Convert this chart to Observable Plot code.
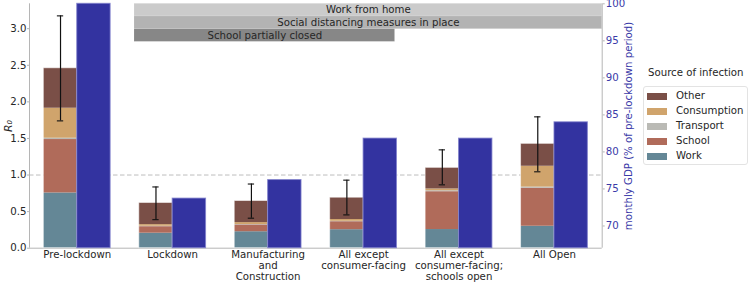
<!DOCTYPE html>
<html>
<head>
<meta charset="utf-8">
<script src="https://cdn.jsdelivr.net/npm/d3@7"></script>
<script src="https://cdn.jsdelivr.net/npm/@observablehq/plot@0.6"></script>
<style>
  body { margin: 0; background: white; font-family: "DejaVu Sans", sans-serif; }
  #wrap { position: relative; width: 748px; height: 283px; overflow: hidden; }
  #wrap svg { position: absolute; left: 0; top: 0; }
  .legend-title { position: absolute; left: 648px; top: 67px; font-size: 10.2px; color: #262626; white-space: nowrap; }
  .legend-box { position: absolute; left: 643px; top: 86px; width: 103px; height: 77px; border: 1px solid #e3e3e3; border-radius: 3px; background: rgba(255,255,255,0.8); }
  .legend-item { position: absolute; left: 3px; height: 14px; font-size: 10.2px; color: #262626; white-space: nowrap; }
  .legend-sw { position: absolute; left: 0; top: 4px; width: 20px; height: 7px; }
  .legend-lb { position: absolute; left: 29px; top: 0; line-height: 14px; }
</style>
</head>
<body>
<div id="wrap"></div>
<script>
// ---------------- data ----------------
const categories = [
  "Pre-lockdown",
  "Lockdown",
  "Manufacturing\nand\nConstruction",
  "All except\nconsumer-facing",
  "All except\nconsumer-facing;\nschools open",
  "All Open"
];
const sources = ["Work", "School", "Transport", "Consumption", "Other"];
const work        = [0.755, 0.205, 0.225, 0.253, 0.255, 0.300];
const school      = [0.730, 0.089, 0.093, 0.109, 0.517, 0.520];
const transport   = [0.018, 0.006, 0.006, 0.006, 0.013, 0.015];
const consumption = [0.410, 0.022, 0.026, 0.024, 0.025, 0.285];
const other       = [0.546, 0.296, 0.295, 0.298, 0.288, 0.306];
const errLow  = [1.740, 0.390, 0.410, 0.455, 0.866, 1.044];
const errHigh = [3.175, 0.837, 0.877, 0.930, 1.344, 1.795];
const gdp = [100, 73.7, 76.2, 81.8, 81.8, 84.0];
const rTicks = [0, 0.5, 1.0, 1.5, 2.0, 2.5, 3.0];
const gdpTicks = [70, 75, 80, 85, 90, 95, 100];
const bandLabels = ["Work from home", "Social distancing measures in place", "School partially closed"];
const bandStart = [0.6, 0.6, 0.6];
const bandEnd = [5.5, 5.5, 3.33];

// ---------------- styling ----------------
const sourceColors = ["#648796", "#b06b5a", "#babab5", "#d0a46c", "#7a4f47"];
const bandColors = ["#cbcbcb", "#b3b3b3", "#878787"];
const gdpColor = "#3333a0";
const gdpAxisColor = "#3a3aa8";
const textColor = "#262626";
const spineColor = "#b5b5b5";
const BAR_W = 0.35;
const X_DOMAIN = [-0.5, 5.5];
const R_DOMAIN = [0, 3.34];
const GDP_DOMAIN = [67, 100];
const BAND_H = 0.1735;

const series = [work, school, transport, consumption, other];
const segs = [];
categories.forEach((c, i) => {
  let base = 0;
  sources.forEach((s, k) => {
    const v = series[k][i];
    segs.push({i, source: s, y1: base, y2: base + v});
    base += v;
  });
});
const totals = categories.map((c, i) => ({i, total: d3.sum(series, s => s[i])}));
const errs = categories.map((c, i) => ({i, c: i - BAR_W / 2, lo: errLow[i], hi: errHigh[i]}));
const gdpRows = gdp.map((v, i) => ({i, v}));
const bands = bandLabels.map((label, k) => ({
  label, start: bandStart[k], end: bandEnd[k],
  y2: R_DOMAIN[1] - k * BAND_H, y1: R_DOMAIN[1] - (k + 1) * BAND_H, color: bandColors[k]
}));

const common = {
  width: 748, height: 283,
  marginLeft: 29, marginRight: 146.3, marginTop: 3.3, marginBottom: 35.3,
  x: {domain: X_DOMAIN, axis: null},
  style: {background: "transparent", fontFamily: "DejaVu Sans", fontSize: "10px", color: textColor, overflow: "visible"}
};

const plotA = Plot.plot({
  ...common,
  y: {domain: R_DOMAIN},
  color: {domain: sources, range: sourceColors},
  marks: [
    Plot.ruleY([1], {stroke: "#bdbdbd", strokeDasharray: "4.5,2.5", strokeWidth: 1}),
    Plot.ruleX([X_DOMAIN[0]], {stroke: spineColor}),
    Plot.ruleY([0], {stroke: spineColor}),
    Plot.rect(segs, {x1: d => d.i - BAR_W, x2: d => d.i, y1: "y1", y2: "y2", fill: "source"}),
    Plot.rect(totals, {x1: d => d.i - BAR_W, x2: d => d.i, y1: 0, y2: "total", fill: "none", stroke: "#ffffff", strokeOpacity: 0.55, strokeWidth: 1}),
    Plot.ruleX(errs, {x: "c", y1: "lo", y2: "hi", stroke: "#111", strokeWidth: 1.2}),
    Plot.ruleY(errs, {y: "lo", x1: d => d.c - 0.033, x2: d => d.c + 0.033, stroke: "#111", strokeWidth: 1.1}),
    Plot.ruleY(errs, {y: "hi", x1: d => d.c - 0.033, x2: d => d.c + 0.033, stroke: "#111", strokeWidth: 1.1}),
    Plot.rect(bands, {x1: "start", x2: "end", y1: "y1", y2: "y2", fill: "color", stroke: "#ffffff", strokeOpacity: 0.25, strokeWidth: 0.5}),
    Plot.text(bands, {x: d => (d.start + d.end) / 2, y: d => (d.y1 + d.y2) / 2, text: "label", fill: textColor, fontSize: 10.2}),
    Plot.axisY({ticks: rTicks, tickFormat: d3.format(".1f"), tickSize: 2, tickPadding: 1, stroke: spineColor, fill: textColor, fontSize: 10.2, label: null}),
    Plot.text(categories, {x: (d, i) => i, frameAnchor: "bottom", dy: 2, lineAnchor: "top", lineHeight: 1.08, text: d => d, fill: textColor, fontSize: 10.2}),
    Plot.text(["R₀"], {frameAnchor: "left", dx: -21, rotate: -90, textAnchor: "middle", fill: textColor, fontSize: 11, fontStyle: "italic"})
  ]
});

const plotB = Plot.plot({
  ...common,
  y: {domain: GDP_DOMAIN},
  marks: [
    Plot.ruleX([X_DOMAIN[1]], {stroke: spineColor}),
    Plot.rect(gdpRows, {x1: d => d.i, x2: d => d.i + BAR_W, y1: GDP_DOMAIN[0], y2: "v", fill: gdpColor, stroke: "#8080cc", strokeWidth: 1, strokeOpacity: 0.8}),
    Plot.axisY({anchor: "right", ticks: gdpTicks, tickSize: 2, tickPadding: 1.5, stroke: spineColor, fill: gdpAxisColor, fontSize: 10.2, label: null}),
    Plot.text(["monthly GDP (% of pre-lockdown period)"], {frameAnchor: "right", dx: 26.5, rotate: -90, textAnchor: "middle", fill: gdpAxisColor, fontSize: 10.2})
  ]
});

const wrap = document.getElementById("wrap");
wrap.appendChild(plotA);
wrap.appendChild(plotB);

// legend (HTML)
const title = document.createElement("div");
title.className = "legend-title";
title.textContent = "Source of infection";
wrap.appendChild(title);
const box = document.createElement("div");
box.className = "legend-box";
const legendOrder = sources.slice().reverse();
legendOrder.forEach((s, k) => {
  const item = document.createElement("div");
  item.className = "legend-item";
  item.style.top = (1.7 + 15 * k) + "px";
  const sw = document.createElement("div");
  sw.className = "legend-sw";
  sw.style.background = sourceColors[sources.indexOf(s)];
  const lb = document.createElement("div");
  lb.className = "legend-lb";
  lb.textContent = s;
  item.appendChild(sw);
  item.appendChild(lb);
  box.appendChild(item);
});
wrap.appendChild(box);
</script>
</body>
</html>
